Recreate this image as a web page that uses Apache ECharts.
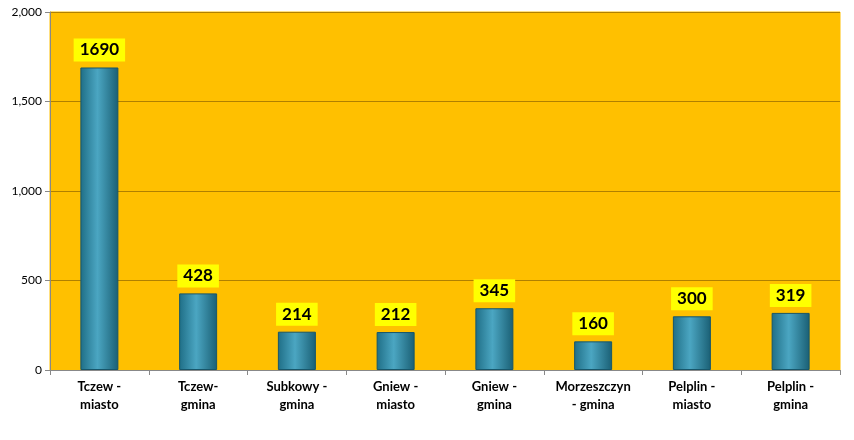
<!DOCTYPE html><html><head><meta charset="utf-8">
<script src="https://cdn.jsdelivr.net/npm/echarts@6/dist/echarts.min.js"></script>
<style>html,body{margin:0;padding:0;background:#fff}#c{width:854px;height:440px}</style></head><body><div id="c"></div>
<script>
const categories=["Tczew -\nmiasto","Tczew-\ngmina","Subkowy -\ngmina","Gniew -\nmiasto","Gniew -\ngmina","Morzeszczyn\n- gmina","Pelplin -\nmiasto","Pelplin -\ngmina"];
const values=[1690,428,214,212,345,160,300,319];
const yTicks=[0,500,1000,1500,2000];
const ch=echarts.init(document.getElementById('c'));
ch.setOption({
 grid:{left:50,right:14,top:12,bottom:70,backgroundColor:'#FFC000',show:true,borderColor:'#FFC000'},
 xAxis:{type:'category',data:categories,axisTick:{show:true,alignWithLabel:false,lineStyle:{color:'#888'}},axisLine:{lineStyle:{color:'#888'}},
  axisLabel:{interval:0,color:'#000',fontWeight:'bold',fontSize:13,fontFamily:'Lato',lineHeight:18,margin:8}},
 yAxis:{type:'value',min:0,max:2000,interval:500,axisLine:{show:true,lineStyle:{color:'#888'}},axisTick:{show:true,lineStyle:{color:'#888'}},
  axisLabel:{color:'#000',fontSize:12,fontFamily:'Lato'},splitLine:{lineStyle:{color:'#B08000'}}},
 series:[{type:'bar',data:values,barWidth:38,
  itemStyle:{color:new echarts.graphic.LinearGradient(0,0,1,0,[{offset:0,color:'#1F6E86'},{offset:0.45,color:'#4BA6C2'},{offset:1,color:'#1A5F74'}]),borderColor:'#17566A',borderWidth:1},
  label:{show:true,position:'top',distance:6,backgroundColor:'#FFFF00',color:'#000',fontWeight:'bold',fontSize:17,fontFamily:'Lato',padding:[3,6]}}]
});
</script></body></html>
